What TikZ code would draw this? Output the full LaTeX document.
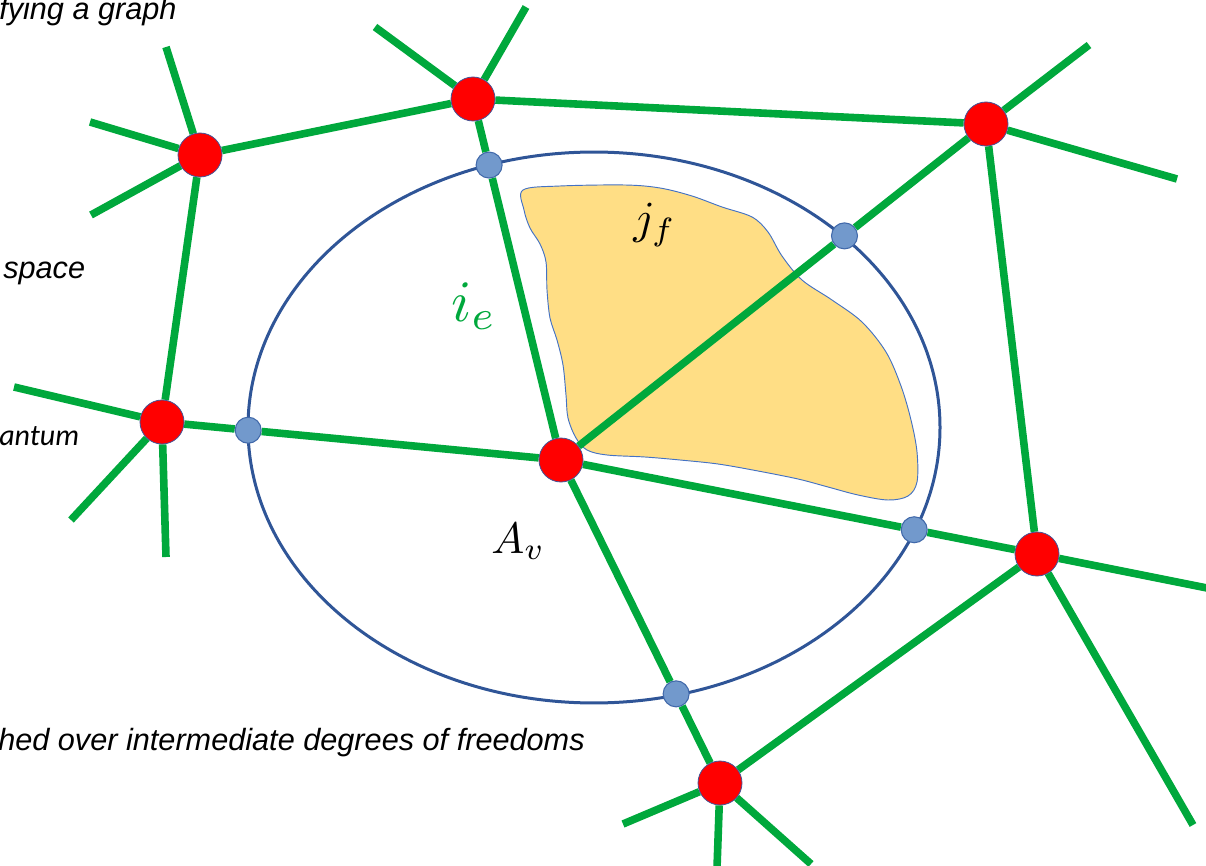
\documentclass[tikz,border=0pt]{standalone}
\usepackage{fontspec}
\setmainfont{Liberation Sans}
\newfontfamily\calfont{Carlito}
\usetikzlibrary{calc}
\definecolor{lgreen}{RGB}{0,168,60}
\definecolor{ellblue}{RGB}{47,85,151}
\definecolor{dotfill}{RGB}{114,153,204}
\definecolor{dotborder}{RGB}{65,105,170}
\definecolor{vborder}{RGB}{68,84,150}
\definecolor{blobfill}{RGB}{255,222,133}
\definecolor{blobborder}{RGB}{68,114,196}
\pgfdeclarelayer{bg}
\pgfsetlayers{bg,main}
\begin{document}
\begin{tikzpicture}[x=0.75pt,y=-0.75pt,
  edge/.style={draw=lgreen,line width=5.7pt},
  vtx/.style={circle,fill=red,draw=vborder,line width=0.6pt,minimum size=33pt,inner sep=0pt},
  dot/.style={circle,fill=dotfill,draw=dotborder,line width=0.8pt,minimum size=19.5pt,inner sep=0pt},
  lbl/.style={inner sep=0pt,anchor=base west,font=\fontsize{23}{27}\selectfont\itshape}]
\useasboundingbox (0,0) rectangle (1206,866);
\clip (0,0) rectangle (1206,866);

% vertices
\node[vtx] (A) at (200,155) {};
\node[vtx] (B) at (473,99) {};
\node[vtx] (C) at (986,124) {};
\node[vtx] (D) at (162,422) {};
\node[vtx] (E) at (561,460) {};
\node[vtx] (F) at (1037,554) {};
\node[vtx] (G) at (720,783) {};

% boundary points
\node[dot] (p1) at ($(B)!0.183!(E)$) {};
\node[dot] (p2) at ($(C)!0.333!(E)$) {};
\node[dot] (p3) at ($(D)!0.216!(E)$) {};
\node[dot] (p4) at ($(E)!0.742!(F)$) {};
\node[dot] (p5) at ($(E)!0.724!(G)$) {};

% free ends
\coordinate (a1) at (166,47);
\coordinate (a2) at (90,122);
\coordinate (a3) at (91,215);
\coordinate (b1) at (375,27);
\coordinate (b2) at (526,7);
\coordinate (c1) at (1089,45);
\coordinate (c2) at (1177,179);
\coordinate (d1) at (14,387);
\coordinate (d2) at (71,520);
\coordinate (d3) at (166,557);
\coordinate (f1) at (1212,589);
\coordinate (f2) at (1193,825);
\coordinate (g1) at (623,824);
\coordinate (g2) at (717,868);
\coordinate (g3) at (811,864);

\begin{pgfonlayer}{bg}
  % face
  \draw[fill=blobfill,draw=blobborder,line width=0.7pt]
    plot[smooth cycle,tension=0.55] coordinates {
      (523,190) (560,186) (625,185) (660,188) (692,196) (722,207) (752,217)
      (768,232) (782,256) (802,280) (832,300) (862,322) (886,352) (901,386)
      (911,420) (917,452) (917,482) (908,496) (888,500) (858,495) (828,487)
      (798,479) (758,471) (718,464) (680,460) (645,457) (607,455) (587,450)
      (576,438) (568,418) (566,395) (563,365) (557,340) (550,318) (547,290)
      (546,262) (540,244) (530,228) (524,210)};
  % vertex region
  \draw[ellblue,line width=2.25pt] (594,427.5) ellipse [x radius=259.5pt, y radius=206.6pt];
  % edges
  \draw[edge] (A) -- (B);
  \draw[edge] (B) -- (C);
  \draw[edge] (A) -- (D);
  \draw[edge] (B) -- (p1) -- (E);
  \draw[edge] (C) -- (p2) -- (E);
  \draw[edge] (C) -- (F);
  \draw[edge] (D) -- (p3) -- (E);
  \draw[edge] (E) -- (p4) -- (F);
  \draw[edge] (E) -- (p5) -- (G);
  \draw[edge] (G) -- (F);
  \draw[edge] (A) -- (a1);
  \draw[edge] (A) -- (a2);
  \draw[edge] (A) -- (a3);
  \draw[edge] (B) -- (b1);
  \draw[edge] (B) -- (b2);
  \draw[edge] (C) -- (c1);
  \draw[edge] (C) -- (c2);
  \draw[edge] (D) -- (d1);
  \draw[edge] (D) -- (d2);
  \draw[edge] (D) -- (d3);
  \draw[edge] (F) -- (f1);
  \draw[edge] (F) -- (f2);
  \draw[edge] (G) -- (g1);
  \draw[edge] (G) -- (g2);
  \draw[edge] (G) -- (g3);
\end{pgfonlayer}

% math labels
\node[inner sep=0pt,anchor=base west,text=lgreen] (ie) at (451,321) {\scalebox{4.4}{$i_e$}};
\node[inner sep=0pt,anchor=base west] (jf) at (633,234) {\scalebox{3.45}{$j_f$}};
\node[inner sep=0pt,anchor=base west] (Av) at (491,553) {\scalebox{3.3}{$A_v$}};

% clipped side texts
\node[lbl] (t1) at (-1,20) {fying a graph};
\node[lbl] (t2) at (3,278) {space};
\node[lbl,font=\fontsize{22.5}{27}\selectfont\calfont\itshape] (t3) at (-1,445) {antum};
\node[lbl] (t4) at (-2,750) {hed over intermediate degrees of freedoms};
\end{tikzpicture}
\end{document}
